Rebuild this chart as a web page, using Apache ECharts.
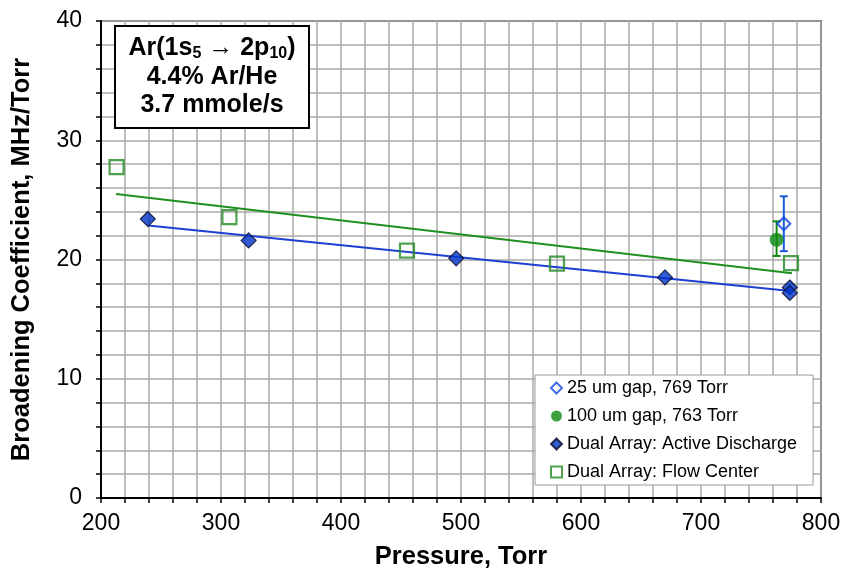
<!DOCTYPE html>
<html>
<head>
<meta charset="utf-8">
<script src="https://cdn.jsdelivr.net/npm/echarts@6/dist/echarts.min.js"></script>
<style>
html,body{margin:0;padding:0;background:#fff;}
#chart{width:843px;height:568px;}
</style>
</head>
<body>
<div id="chart"></div>
<script>
// ---- data ----
const activeX = [239, 323, 496, 670, 774, 774];
const activeY = [23.4, 21.6, 20.1, 18.5, 17.65, 17.2];
const flowX = [213, 307, 455, 580, 775];
const flowY = [27.75, 23.55, 20.75, 19.65, 19.7];
const gap25X = [769];
const gap25Y = [23.0];
const gap25Lo = [20.7];
const gap25Hi = [25.3];
const gap100X = [763];
const gap100Y = [21.65];
const gap100Lo = [20.3];
const gap100Hi = [23.2];
const trendActiveX = [239.4, 774.4];
const trendActiveY = [22.85, 17.35];
const trendFlowX = [212.5, 775.8];
const trendFlowY = [25.5, 18.85];
const seriesNames = ['25 um gap, 769 Torr', '100 um gap, 763 Torr', 'Dual Array: Active Discharge', 'Dual Array: Flow Center'];
const annotationLines = ['4.4% Ar/He', '3.7 mmole/s'];

const FONT = "'Liberation Sans', Arial, sans-serif";
const BLUE = '#0033c8';
const BLUE_LINE = '#1e40d0';
const BLUE_ERR = '#1a5ad6';
const GREEN = '#0d8a12';
const GREEN_LINE = '#1f8f1f';

const zip = (xs, ys) => xs.map((x, i) => [x, ys[i]]);

function errorSeries(xs, los, his, color) {
  return {
    type: 'custom',
    z: 3,
    silent: true,
    data: xs.map((x, i) => [x, los[i], his[i]]),
    renderItem: function (params, api) {
      const lo = api.coord([api.value(0), api.value(1)]);
      const hi = api.coord([api.value(0), api.value(2)]);
      const w = 4;
      const st = { stroke: color, lineWidth: 2 };
      return {
        type: 'group',
        children: [
          { type: 'line', shape: { x1: hi[0], y1: hi[1], x2: lo[0], y2: lo[1] }, style: st },
          { type: 'line', shape: { x1: hi[0] - w, y1: hi[1], x2: hi[0] + w, y2: hi[1] }, style: st },
          { type: 'line', shape: { x1: lo[0] - w, y1: lo[1], x2: lo[0] + w, y2: lo[1] }, style: st }
        ]
      };
    }
  };
}

const chart = echarts.init(document.getElementById('chart'), null, { renderer: 'canvas' });

const axisCommon = {
  axisLine: { show: true, onZero: false, lineStyle: { color: '#000', width: 2 } },
  axisTick: { show: true, inside: false, length: 5, lineStyle: { color: '#000', width: 1.5 } },
  minorTick: { show: true, splitNumber: 5, length: 5, lineStyle: { color: '#000', width: 1.5 } },
  splitLine: { show: true, lineStyle: { color: '#aaaaaa', width: 1.5 } },
  minorSplitLine: { show: true, lineStyle: { color: '#aaaaaa', width: 1.5 } },
  axisLabel: { color: '#000', fontSize: 23, fontFamily: FONT },
  nameTextStyle: { color: '#000', fontSize: 25.5, fontWeight: 'bold', fontFamily: FONT },
  nameLocation: 'middle'
};

chart.setOption({
  animation: false,
  backgroundColor: '#fff',
  grid: {
    left: 101, right: 22, top: 21, bottom: 70,
    outerBoundsMode: 'none', containLabel: false,
    show: true, borderColor: '#5a5a5a', borderWidth: 2, backgroundColor: 'transparent'
  },
  xAxis: Object.assign({}, axisCommon, {
    type: 'value', min: 200, max: 800, interval: 100,
    name: 'Pressure, Torr', nameGap: 46,
    axisLabel: Object.assign({}, axisCommon.axisLabel, { margin: 14 })
  }),
  yAxis: Object.assign({}, axisCommon, {
    type: 'value', min: 0, max: 40, interval: 10,
    name: 'Broadening Coefficient, MHz/Torr', nameGap: 66,
    axisLabel: Object.assign({}, axisCommon.axisLabel, { margin: 19 })
  }),
  legend: {
    orient: 'vertical',
    left: 535, top: 375,
    itemWidth: 11, itemHeight: 11, itemGap: 10,
    padding: [4, 16, 4, 15],
    backgroundColor: '#fff',
    borderColor: '#9a9a9a', borderWidth: 1,
    textStyle: { color: '#000', fontSize: 18, lineHeight: 18, fontFamily: FONT },
    data: seriesNames
  },
  series: [
    {
      type: 'line', z: 2, silent: true, symbol: 'none',
      data: zip(trendActiveX, trendActiveY),
      lineStyle: { color: BLUE_LINE, width: 2 }
    },
    {
      type: 'line', z: 2, silent: true, symbol: 'none',
      data: zip(trendFlowX, trendFlowY),
      lineStyle: { color: GREEN_LINE, width: 2 }
    },
    errorSeries(gap25X, gap25Lo, gap25Hi, BLUE_ERR),
    errorSeries(gap100X, gap100Lo, gap100Hi, GREEN),
    {
      name: seriesNames[0], type: 'scatter', z: 5,
      symbol: 'diamond', symbolSize: 13,
      data: zip(gap25X, gap25Y),
      itemStyle: { color: 'rgba(255,255,255,0)', borderColor: '#1448d8', borderWidth: 2.2 }
    },
    {
      name: seriesNames[1], type: 'scatter', z: 5,
      symbol: 'circle', symbolSize: 14,
      data: zip(gap100X, gap100Y),
      itemStyle: { color: GREEN, borderColor: GREEN, borderWidth: 0 }
    },
    {
      name: seriesNames[2], type: 'scatter', z: 5,
      symbol: 'diamond', symbolSize: 15,
      data: zip(activeX, activeY),
      itemStyle: { color: BLUE, borderColor: '#050a28', borderWidth: 1.2 }
    },
    {
      name: seriesNames[3], type: 'scatter', z: 5,
      symbol: 'rect', symbolSize: 14,
      data: zip(flowX, flowY),
      itemStyle: { color: 'rgba(255,255,255,0)', borderColor: '#228a22', borderWidth: 2.2 }
    }
  ],
  graphic: [
    {
      type: 'rect', z: 50,
      shape: { x: 115, y: 26, width: 194, height: 102 },
      style: { fill: '#fff', stroke: '#000', lineWidth: 2 }
    },
    {
      type: 'text', z: 51, x: 212, y: 48,
      style: {
        text: '{b|Ar(1s}{s|5}{b| \u2192 2p}{s|10}{b|)}',
        align: 'center', verticalAlign: 'middle',
        rich: {
          b: { fontSize: 25, fontWeight: 'bold', fontFamily: FONT, fill: '#000', lineHeight: 28, verticalAlign: 'middle' },
          s: { fontSize: 16, fontWeight: 'bold', fontFamily: FONT, fill: '#000', lineHeight: 14, verticalAlign: 'bottom' }
        }
      }
    },
    {
      type: 'text', z: 51, x: 212, y: 77,
      style: {
        text: annotationLines[0], align: 'center', verticalAlign: 'middle',
        fontSize: 25, fontWeight: 'bold', fontFamily: FONT, fill: '#000'
      }
    },
    {
      type: 'text', z: 51, x: 212, y: 105,
      style: {
        text: annotationLines[1], align: 'center', verticalAlign: 'middle',
        fontSize: 25, fontWeight: 'bold', fontFamily: FONT, fill: '#000'
      }
    }
  ]
});
</script>
</body>
</html>
